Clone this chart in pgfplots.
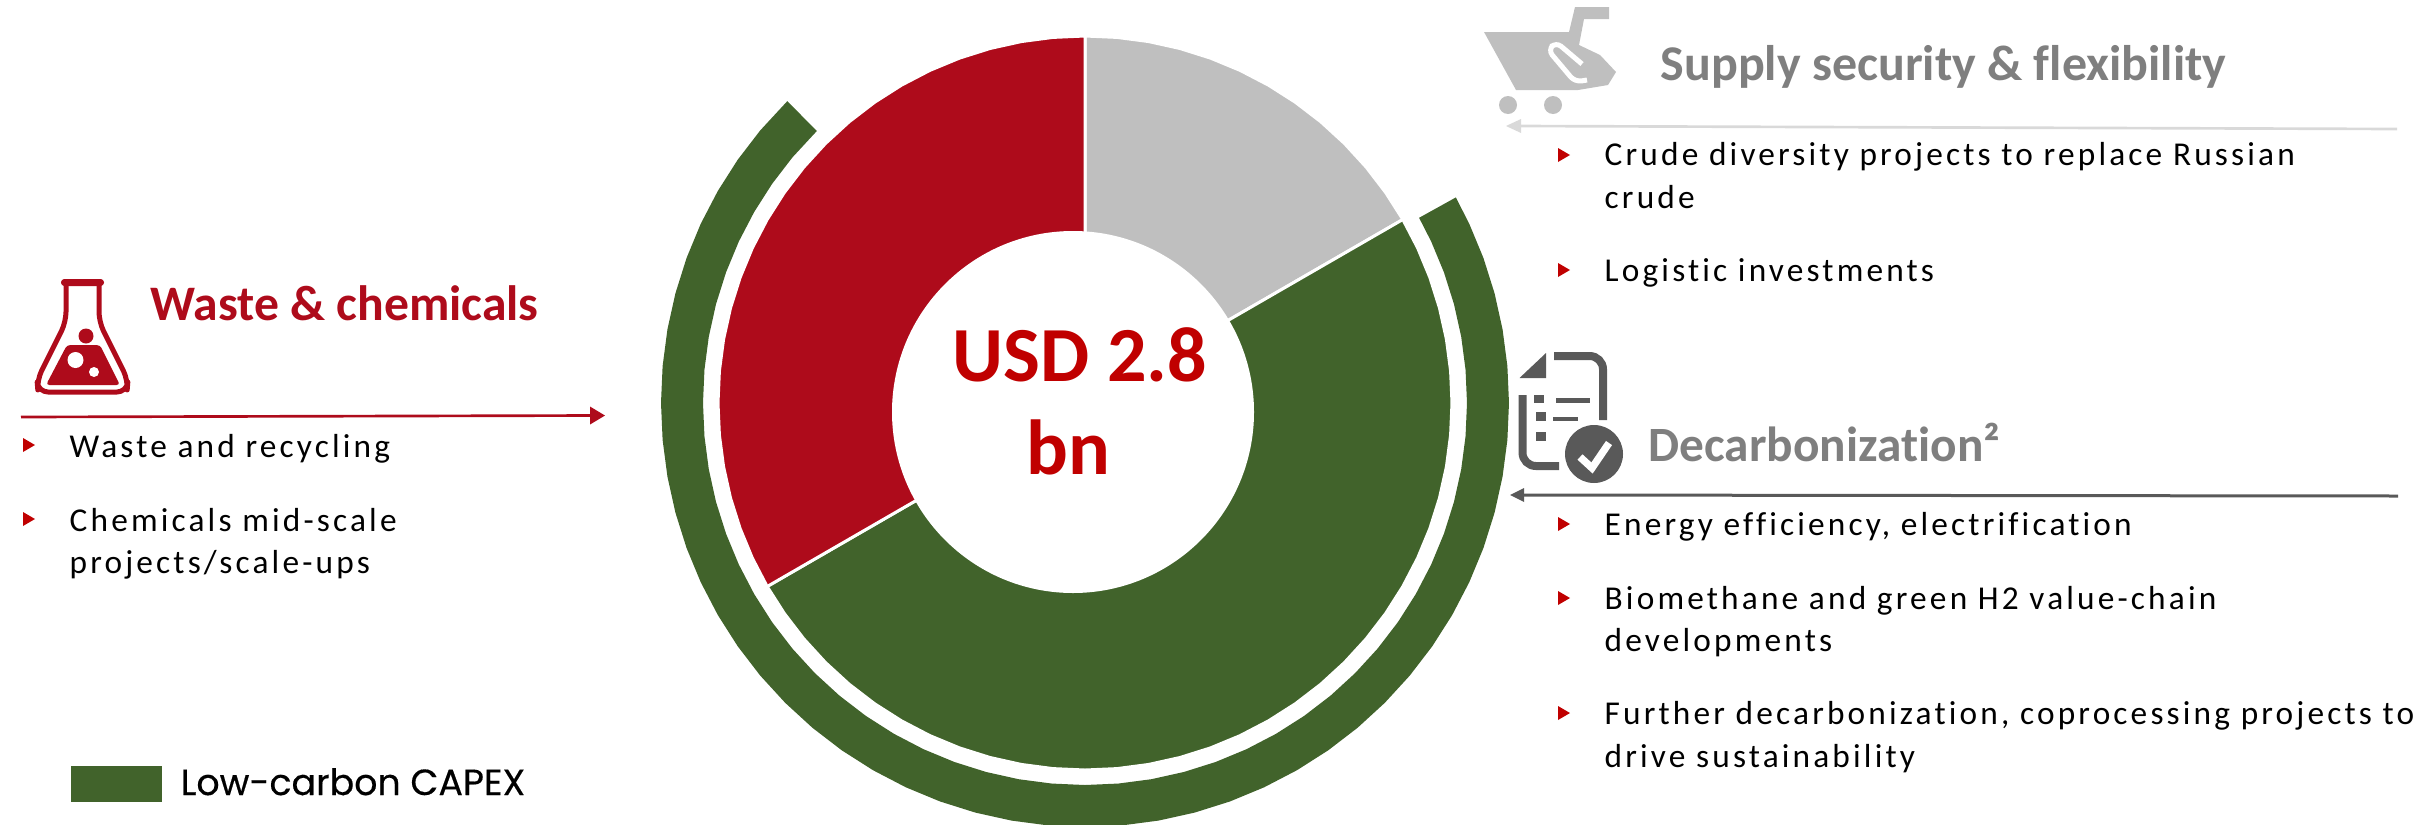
\documentclass[border=0pt]{standalone}
\usepackage{fontspec}
\usepackage{pgfplots}
\pgfplotsset{compat=1.18}
\setmainfont[Ligatures=NoCommon]{Carlito}
\newfontfamily\bodyf[LetterSpace=9.5,Ligatures=NoCommon]{Carlito}
\newfontfamily\popf[FakeBold=0.4]{Poppins}
\definecolor{cgreen}{HTML}{41632B}
\definecolor{cred}{HTML}{AE0B1B}
\definecolor{cgray}{HTML}{BFBFBF}
\definecolor{tred}{HTML}{C00000}
\definecolor{hgray}{HTML}{7F7F7F}
\definecolor{dgray}{HTML}{595959}
\newcommand\bul[2]{\fill[tred] (#1,#2-7) -- (#1+12,#2) -- (#1,#2+7) -- cycle;}
\newcommand\txt[3]{\node[anchor=base west,inner sep=0pt,font=\bodyf\fontsize{10pt}{12pt}\selectfont] at (#1,#2) {#3};}
\begin{document}
\begin{tikzpicture}
\begin{axis}[
  at={(0,0)},anchor=north west,
  x=0.3pt,y=0.3pt,
  xmin=-1085,xmax=1348,ymin=-421,ymax=403,
  hide axis,
  legend style={at={(axis description cs:0.0292,0.0485)},anchor=west,draw=none,fill=none,
    inner sep=0pt,outer sep=0pt,font=\popf\fontsize{10.9pt}{12pt}\selectfont,
    /tikz/every even column/.style={column sep=0pt}},
]
% gray slice (16.67 %)
\addplot[forget plot,data cs=polar,fill=cgray,draw=white,line width=0.9pt] coordinates {
 (0,0)(90,367)(85,367)(80,367)(75,367)(70,367)(65,367)(60,367)(55,367)(50,367)(45,367)(40,367)(35,367)(30,367)(0,0)};
% green slice (50 %)
\addplot[forget plot,data cs=polar,fill=cgreen,draw=white,line width=0.9pt] coordinates {
 (0,0)(30,367)(25,367)(20,367)(15,367)(10,367)(5,367)(0,367)(-5,367)(-10,367)(-15,367)(-20,367)(-25,367)(-30,367)(-35,367)(-40,367)(-45,367)(-50,367)(-55,367)(-60,367)(-65,367)(-70,367)(-75,367)(-80,367)(-85,367)(-90,367)(-95,367)(-100,367)(-105,367)(-110,367)(-115,367)(-120,367)(-125,367)(-130,367)(-135,367)(-140,367)(-145,367)(-150,367)(0,0)};
% red slice (33.33 %)
\addplot[forget plot,data cs=polar,fill=cred,draw=white,line width=0.9pt] coordinates {
 (0,0)(210,367)(205,367)(200,367)(195,367)(190,367)(185,367)(180,367)(175,367)(170,367)(165,367)(160,367)(155,367)(150,367)(145,367)(140,367)(135,367)(130,367)(125,367)(120,367)(115,367)(110,367)(105,367)(100,367)(95,367)(90,367)(0,0)};
% outer ring: low-carbon share
\addplot[data cs=polar,fill=cgreen,draw=none,
  legend image code/.code={\fill[cgreen] (0pt,-5.4pt) rectangle (27.3pt,5.4pt);\path (30.9pt,0pt);}] coordinates {
 (29,424)(25,424)(20,424)(15,424)(10,424)(5,424)(0,424)(-5,424)(-10,424)(-15,424)(-20,424)(-25,424)(-30,424)(-35,424)(-40,424)(-45,424)(-50,424)(-55,424)(-60,424)(-65,424)(-70,424)(-75,424)(-80,424)(-85,424)(-90,424)(-95,424)(-100,424)(-105,424)(-110,424)(-115,424)(-120,424)(-125,424)(-130,424)(-135,424)(-140,424)(-145,424)(-150,424)(-155,424)(-160,424)(-165,424)(-170,424)(-175,424)(-180,424)(-185,424)(-190,424)(-195,424)(-200,424)(-205,424)(-210,424)(-215,424)(-220,424)(-225.4,424)
 (-225.4,382)(-220,382)(-215,382)(-210,382)(-205,382)(-200,382)(-195,382)(-190,382)(-185,382)(-180,382)(-175,382)(-170,382)(-165,382)(-160,382)(-155,382)(-150,382)(-145,382)(-140,382)(-135,382)(-130,382)(-125,382)(-120,382)(-115,382)(-110,382)(-105,382)(-100,382)(-95,382)(-90,382)(-85,382)(-80,382)(-75,382)(-70,382)(-65,382)(-60,382)(-55,382)(-50,382)(-45,382)(-40,382)(-35,382)(-30,382)(-25,382)(-20,382)(-15,382)(-10,382)(-5,382)(0,382)(5,382)(10,382)(15,382)(20,382)(25,382)(29,382)(29,424)};
\addlegendentry{Low-carbon CAPEX}
\end{axis}
\begin{scope}[x=0.3pt,y=-0.3pt]
% hole
\fill[white] (1073,412) circle[radius=181];
\node[inner sep=0pt,text=tred,font=\bfseries\fontsize{23.4pt}{26pt}\selectfont,anchor=base] at (1080,381) {USD 2.8};
\node[inner sep=0pt,text=tred,font=\bfseries\fontsize{23.4pt}{26pt}\selectfont,anchor=base] at (1068,474) {bn};
% left block
\node[anchor=base west,inner sep=0pt,text=cred,font=\bfseries\fontsize{14.9pt}{16pt}\selectfont] at (150,320.5) {Waste \& chemicals};
\draw[cred,line width=0.8pt] (21,417) -- (595,415.5);
\fill[cred] (590,406.5) -- (605,415.5) -- (590,424.5) -- cycle;
\bul{23}{445}\txt{69}{457}{Waste and recycling}
\bul{23}{519}\txt{69}{531}{Chemicals mid-scale}
\txt{69}{573}{projects/scale-ups}
% flask
\draw[cred,line width=1.5pt,line join=round,rounded corners=3pt] (66,285) -- (66,322) -- (37,380) -- (38,392) -- (127,392) -- (128,380) -- (99,322) -- (99,285);
\fill[cred,rounded corners=1pt] (61,279) rectangle (104,286);
\fill[cred] (86,336) circle[radius=7.5];
\fill[cred,rounded corners=1pt] (67,345) -- (100,345) -- (120,385) -- (46,385) -- cycle;
\fill[white] (75.5,360) circle[radius=8];
\fill[white] (94,372) circle[radius=5];
% top right block
\node[anchor=base west,inner sep=0pt,text=hgray,font=\bfseries\fontsize{15pt}{16pt}\selectfont] at (1660,80) {Supply security \& flexibility};
\fill[cgray] (1484,32) -- (1569,32) -- (1575,7) -- (1609,7) -- (1609,19) -- (1584,19) -- (1579,45) -- (1600,55) -- (1616,72) -- (1608,85) -- (1590,88) -- (1578,90) -- (1516,90) -- cycle;
\draw[white,line width=1.5pt,rounded corners=2pt] (1582,64) -- (1556,42) -- (1548,50) -- (1575,82) -- (1587,80);
\fill[cgray] (1508,105) circle[radius=9];
\fill[cgray] (1553,105) circle[radius=9];
\draw[gray!30,line width=0.8pt] (2397,129) -- (1518,126);
\fill[gray!30] (1521,119) -- (1506,126) -- (1521,133) -- cycle;
\bul{1558}{155}\txt{1604}{165}{Crude diversity projects to replace Russian}
\txt{1604}{208}{crude}
\bul{1558}{270}\txt{1604}{281}{Logistic investments}
% lower right block
\node[anchor=base west,inner sep=0pt,text=hgray,font=\bfseries\fontsize{14.8pt}{16pt}\selectfont] at (1648,461) {Decarbonization²};
\fill[dgray] (1546,353) -- (1519.5,378) -- (1546,378) -- cycle;
\draw[dgray,line width=2.4pt,rounded corners=4pt] (1554,356) -- (1603,356) -- (1603,420);
\draw[dgray,line width=2.4pt,rounded corners=4pt] (1522.5,395) -- (1522.5,466) -- (1559,466);
\fill[dgray] (1533.5,395) rectangle (1544,403);
\fill[dgray] (1536,412) rectangle (1546,421);
\fill[dgray] (1536,432) rectangle (1546,441);
\fill[dgray] (1556,398) rectangle (1590,403);
\fill[dgray] (1553,417) rectangle (1578,421);
\fill[dgray] (1594,454) circle[radius=29];
\draw[white,line width=2.2pt] (1580,457) -- (1592,468) -- (1609,443);
\draw[dgray,line width=0.9pt] (2398,496) -- (1522,495);
\fill[dgray] (1524,488) -- (1510,495) -- (1524,502) -- cycle;
\bul{1558}{524}\txt{1604}{535}{Energy efficiency, electrification}
\bul{1558}{598}\txt{1604}{609}{Biomethane and green H2 value-chain}
\txt{1604}{651}{developments}
\bul{1558}{713}\txt{1604}{724}{Further decarbonization, coprocessing projects to}
\txt{1604}{767}{drive sustainability}
\pgfresetboundingbox
\path[use as bounding box] (0,0) rectangle (2433,824);
\end{scope}
\end{tikzpicture}
\end{document}
